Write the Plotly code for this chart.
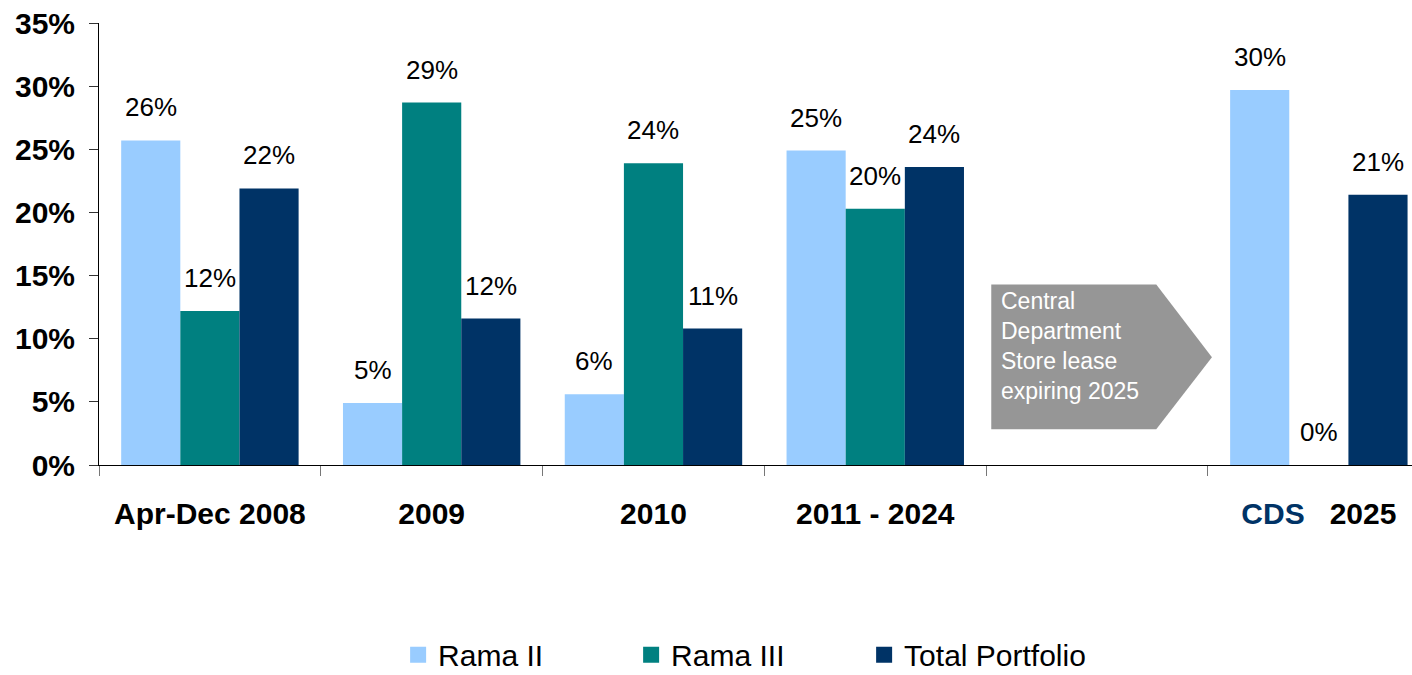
import plotly.graph_objects as go

# ---- data ----
categories = ["Apr-Dec 2008", "2009", "2010", "2011 - 2024", " ",
              "<span style='color:#003366'>CDS</span>\u00a0\u00a0 2025"]
series_names = ["Rama II", "Rama III", "Total Portfolio"]
rama2 = [25.7, 4.9, 5.6, 24.9, None, 29.7]
rama3 = [12.2, 28.7, 23.9, 20.3, None, 0.0]
total = [21.9, 11.6, 10.8, 23.6, None, 21.4]
y_ticks = [0, 5, 10, 15, 20, 25, 30, 35]
y_tick_labels = [f"{v}%" for v in y_ticks]
note_text = "Central<br>Department<br>Store lease<br>expiring 2025"

colors = ["#99CCFF", "#008080", "#003366"]
FONT = "Liberation Sans, Arial, sans-serif"
BARGAP = 0.2

fig = go.Figure()
all_series = [rama2, rama3, total]
for name, vals, col in zip(series_names, all_series, colors):
    fig.add_trace(go.Bar(x=categories, y=vals, name=name, marker_color=col,
                         marker_line_width=0, showlegend=False))
    # legend swatch (bigger square than the default bar icon)
    fig.add_trace(go.Scatter(x=[None], y=[None], mode="markers", name=name,
                             marker=dict(symbol="square", size=20, color=col)))

# value labels above bars
slot = (1 - BARGAP) / 3
for k, vals in enumerate(all_series):
    for i, v in enumerate(vals):
        if v is None:
            continue
        fig.add_annotation(x=i + (k - 1) * slot, y=v, xref="x", yref="y",
                           text=f"{v:.0f}%", showarrow=False, yanchor="middle",
                           yshift=33, font=dict(family=FONT, size=26, color="black"))

# grey arrow note in the empty slot
fig.add_shape(type="path", xref="x", yref="y",
              path="M 3.523 14.3 L 4.267 14.3 L 4.518 8.53 L 4.267 2.84 L 3.523 2.84 Z",
              fillcolor="#969696", line_width=0, layer="above")
fig.add_annotation(x=3.56, y=9.4, xref="x", yref="y", text=note_text,
                   showarrow=False, xanchor="left", yanchor="middle", align="left",
                   font=dict(family=FONT, size=23, color="white"))

fig.update_layout(
    width=1412, height=675,
    margin=dict(l=99, r=0, t=23, b=210),
    plot_bgcolor="white", paper_bgcolor="white",
    barmode="group", bargap=BARGAP, bargroupgap=0,
    font=dict(family=FONT, color="black"),
    legend=dict(orientation="h", x=0.494, xanchor="center",
                yref="container", y=0.03, yanchor="middle",
                font=dict(family=FONT, size=30), entrywidth=188),
)
fig.update_xaxes(
    type="category", range=[-0.5, 5.42],
    showline=True, linecolor="black", linewidth=1,
    ticks="outside", tickson="boundaries", ticklen=10, tickcolor="#777",
    tickfont=dict(family=FONT, size=30, weight="bold", color="black"),
    ticklabelstandoff=22, showgrid=False, zeroline=False,
)
fig.update_yaxes(
    range=[0, 35], tickmode="array", tickvals=y_ticks, ticktext=y_tick_labels,
    showline=True, linecolor="black", linewidth=1,
    ticks="outside", ticklen=9, tickcolor="#333",
    tickfont=dict(family=FONT, size=30, weight="bold", color="black"),
    ticklabelstandoff=8, showgrid=False, zeroline=False,
)

fig.write_html("out.html", config={"displayModeBar": False},
               post_script="document.body.style.margin='0';")
